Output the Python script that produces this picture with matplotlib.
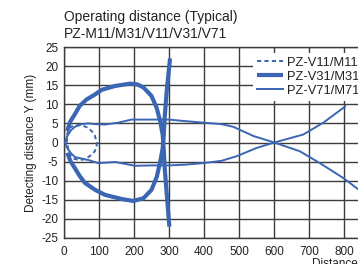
import matplotlib
matplotlib.use("Agg")
import matplotlib.pyplot as plt
import numpy as np

plt.rcParams['font.family'] = ['Liberation Sans', 'DejaVu Sans']

# ---- data ----
x_ticks = [0, 100, 200, 300, 400, 500, 600, 700, 800]
y_ticks = [25, 20, 15, 10, 5, 0, -5, -10, -15, -20, -25]

v11_x = [8, 10, 17, 30, 50, 65, 79, 88, 94, 93, 88, 79, 62, 46, 30, 20, 12, 9]
v11_y = [0, 2.5, 3.9, 4.5, 4.5, 4.0, 3.0, 1.8, 0, -1.0, -2.3, -3.2, -4.3, -4.6, -4.3, -3.6, -1.8, 0]

v31a_x = [9, 18, 31, 45, 65, 89, 108, 146, 189, 210, 227, 250, 265, 275, 282, 285, 288, 294, 301]
v31a_y = [3, 5.5, 7.4, 9.6, 11.3, 12.6, 13.8, 14.8, 15.4, 15.2, 14.4, 12.2, 9, 5.5, 2, -2, -7, -14, -22]
v31b_x = [9, 18, 31, 45, 60, 89, 117, 165, 198, 227, 250, 265, 275, 282, 285, 288, 294, 303]
v31b_y = [-2.7, -4.8, -6.7, -8.8, -10.6, -12.4, -13.7, -14.8, -15.3, -14.6, -12.4, -9, -5, -1.5, 2, 7, 14, 22]

v71a_x = [3, 9.5, 20, 31, 50, 70, 90, 117, 155, 193, 250, 300, 346, 398, 450, 484, 541, 601, 674, 731, 798, 840, 870]
v71a_y = [0, 1.7, 3.2, 4.1, 4.8, 5.0, 4.8, 4.7, 5.2, 6.0, 6.0, 6.0, 5.6, 5.2, 4.8, 4.1, 1.7, 0, -2.3, -5.4, -9.3, -12.2, -14.5]
v71b_x = [3, 9.5, 20, 31, 70, 98, 146, 203, 250, 300, 346, 398, 450, 493, 551, 601, 684, 741, 803]
v71b_y = [0, -1.5, -2.8, -3.8, -4.6, -5.4, -5.1, -6.1, -6.0, -6.0, -5.8, -5.4, -4.8, -3.6, -1.4, 0, 2.1, 5.2, 9.4]

labels = ['PZ-V11/M11', 'PZ-V31/M31', 'PZ-V71/M71']

# ---- figure ----
W, H = 358, 264
fig = plt.figure(figsize=(W / 100, H / 100), dpi=100)
ax_left, ax_top, ax_bottom = 64, 47, 238
ax_right = 64 + 350  # xlim 1000 -> clipped by figure edge
ax = fig.add_axes([ax_left / W, 1 - ax_bottom / H, (ax_right - ax_left) / W, (ax_bottom - ax_top) / H])

col = '#3a66b4'
ax.plot(v11_x, v11_y, color=col, lw=1.4, ls=(0, (2.2, 1.6)), label=labels[0], zorder=3)
ax.plot(v31a_x, v31a_y, color=col, lw=3.0, label=labels[1], zorder=3, solid_capstyle='butt')
ax.plot(v31b_x, v31b_y, color=col, lw=3.0, zorder=3, solid_capstyle='butt')
ax.plot(v71a_x, v71a_y, color=col, lw=1.4, label=labels[2], zorder=3)
ax.plot(v71b_x, v71b_y, color=col, lw=1.4, zorder=3)

ax.set_xlim(0, 1000)
ax.set_ylim(-25, 25)
ax.set_xticks(x_ticks + [900, 1000])
ax.set_xticklabels([str(v) for v in x_ticks] + ['', ''])
ax.set_yticks(y_ticks)
ax.set_yticklabels([str(v) for v in y_ticks])
ax.grid(True, color='#3c3c3c', lw=1.0)
ax.set_axisbelow(True)
for s in ax.spines.values():
    s.set_color('#3c3c3c')
    s.set_linewidth(1.0)
ax.tick_params(length=0, labelsize=8.5, colors='#222222')
ax.tick_params(axis='x', pad=6)
ax.tick_params(axis='y', pad=4)

ax.set_ylabel('Detecting distance Y (mm)', fontsize=8.5, color='#222222', labelpad=3)

leg = ax.legend(loc='upper left', bbox_to_anchor=(253 / W, 1 - 53 / H), bbox_transform=fig.transFigure,
                fontsize=9.3, frameon=True, fancybox=False, framealpha=1, facecolor='white',
                edgecolor='none', borderpad=0.3, labelspacing=0.15, handlelength=2.0,
                handletextpad=0.3, borderaxespad=0)
for t in leg.get_texts():
    t.set_color('#222222')

fig.text(64 / W, 1 - 21 / H, 'Operating distance (Typical)', fontsize=10, va='baseline', ha='left', color='#222222')
fig.text(64 / W, 1 - 38 / H, 'PZ-M11/M31/V11/V31/V71', fontsize=10, va='baseline', ha='left', color='#222222')
fig.text(312 / W, 1 - 267 / H, 'Distance X (mm)', fontsize=8.5, va='baseline', ha='left', color='#222222')

fig.savefig('out.png', dpi=100)
